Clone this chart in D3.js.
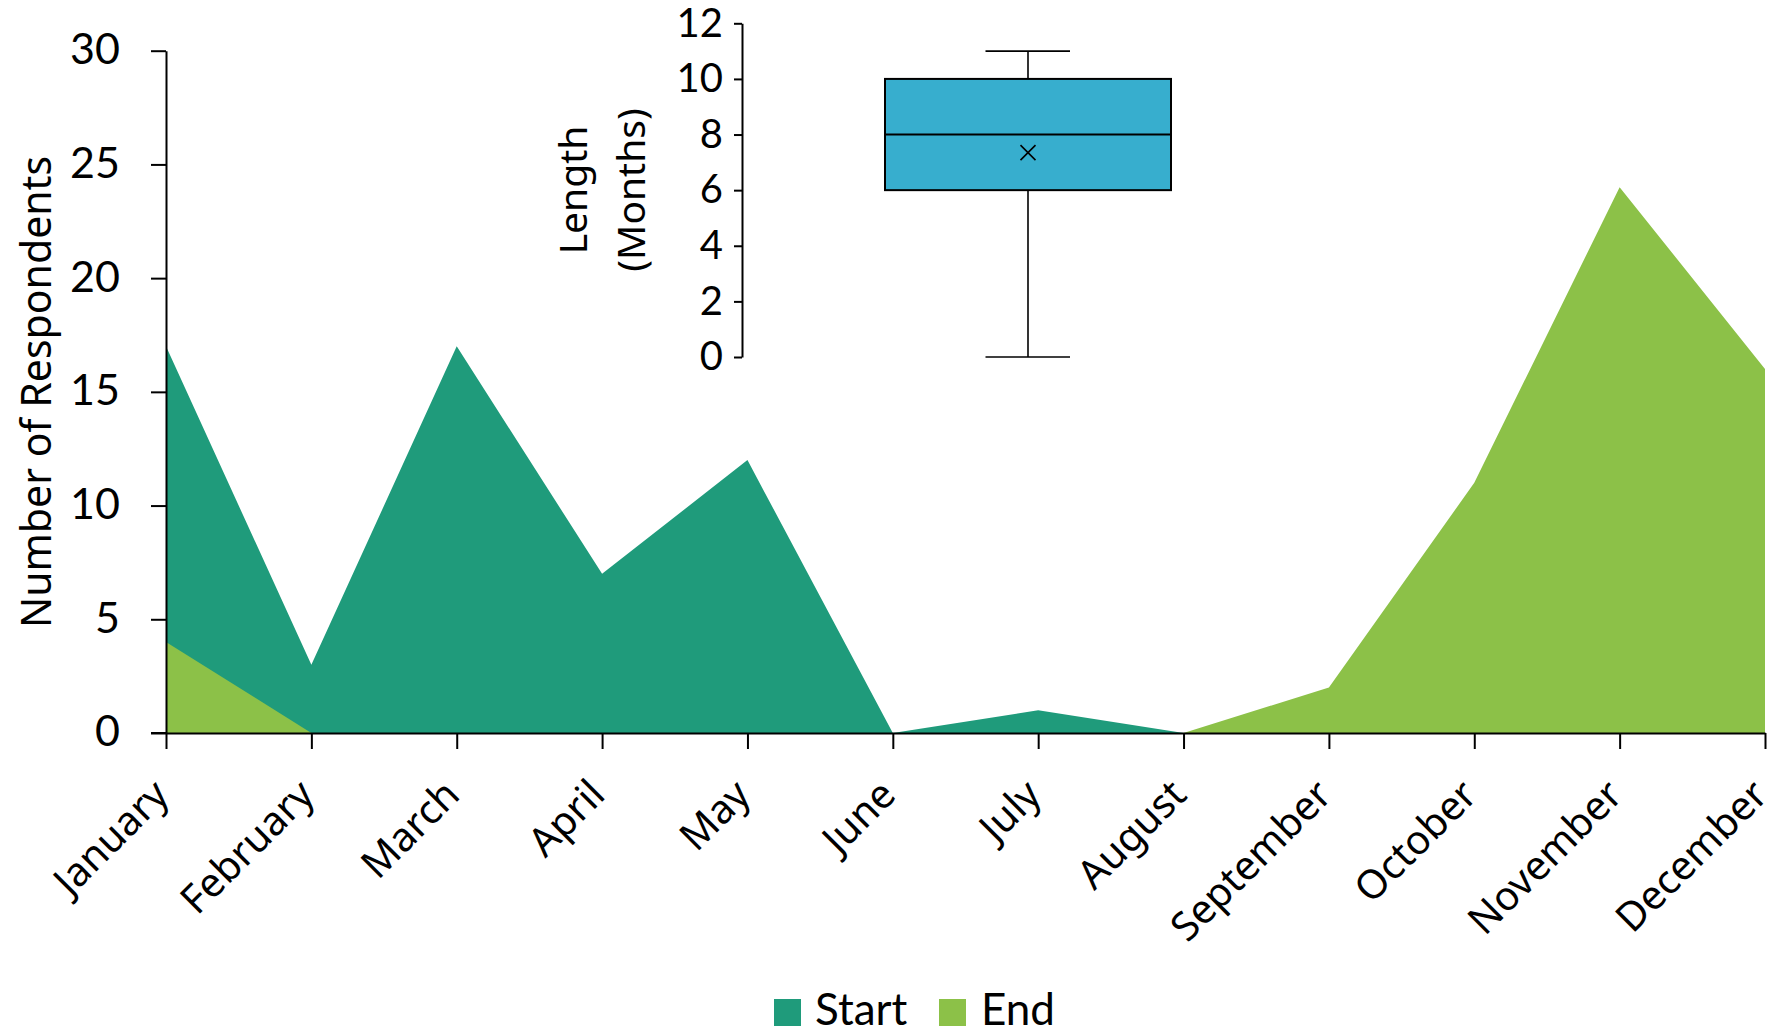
<!DOCTYPE html>
<html>
<head>
<meta charset="utf-8">
<script src="https://cdn.jsdelivr.net/npm/d3@7"></script>
<style>
  html, body { margin: 0; padding: 0; background: #fff; }
  svg { display: block; }
  .num { font-family: Lato, sans-serif; }
  .txt { font-family: "Noto Sans", sans-serif; }
</style>
</head>
<body>
<script>
// Months of the year (x categories)
const months = ["January", "February", "March", "April", "May", "June",
                "July", "August", "September", "October", "November", "December"];
// Respondents whose period started / ended in each month
const startCounts = [17, 3, 17, 7, 12, 0, 1, 0, 0, 0, 0, 0];
const endCounts   = [4, 0, 0, 0, 0, 0, 0, 0, 2, 11, 24, 16];
const yTicks = [0, 5, 10, 15, 20, 25, 30];

// Length summary (months) for the inset box plot
const lengthMin = 0, lengthQ1 = 6, lengthMedian = 8, lengthQ3 = 10, lengthMax = 11, lengthMean = 7.35;
const lengthTicks = [0, 2, 4, 6, 8, 10, 12];

const series = [
  { name: "Start", values: startCounts, color: "#1F9B7B" },
  { name: "End",   values: endCounts,   color: "#8CC148" }
];

const W = 1773, H = 1031;
const svg = d3.select("body").append("svg").attr("width", W).attr("height", H);

// ---- main area chart ----
const x = d3.scalePoint().domain(months).range([166, 1765]);
const y = d3.scaleLinear().domain([0, 30]).range([733, 50.7]);

const area = d3.area()
  .x((d, i) => x(months[i]))
  .y0(y(0))
  .y1(d => y(d));

svg.append("g").selectAll("path")
  .data(series)
  .join("path")
  .attr("d", s => area(s.values))
  .attr("fill", s => s.color);

// y axis
const yAxis = svg.append("g")
  .attr("transform", "translate(166,0)")
  .call(d3.axisLeft(y).tickValues(yTicks).tickSize(15).tickSizeOuter(0).tickPadding(31));
yAxis.select(".domain").attr("stroke", "#000").attr("stroke-width", 2);
yAxis.selectAll(".tick line").attr("stroke", "#000").attr("stroke-width", 2);
yAxis.selectAll(".tick text").attr("class", "num").attr("font-size", 43).attr("fill", "#000").attr("dy", "0.3em");

// x axis
const xAxis = svg.append("g")
  .attr("transform", "translate(0,733)")
  .call(d3.axisBottom(x).tickSize(16).tickSizeOuter(0).tickFormat(""));
xAxis.select(".domain").attr("stroke", "#000").attr("stroke-width", 2);
xAxis.selectAll(".tick line").attr("stroke", "#000").attr("stroke-width", 2);
// horizontal axis line extended under the y-axis zero tick
svg.append("line").attr("x1", 151).attr("x2", 166).attr("y1", 733).attr("y2", 733)
  .attr("stroke", "#000").attr("stroke-width", 2);

// rotated month labels
svg.append("g").selectAll("text")
  .data(months)
  .join("text")
  .attr("class", "txt")
  .attr("font-size", 40)
  .attr("text-anchor", "end")
  .attr("transform", m => `translate(${x(m) + 5},${733 + 64}) rotate(-45)`)
  .text(m => m);

// y axis title
svg.append("text")
  .attr("class", "txt")
  .attr("font-size", 41)
  .attr("text-anchor", "middle")
  .attr("transform", "translate(51,392) rotate(-90)")
  .text("Number of Respondents");

// ---- inset box plot ----
const ly = d3.scaleLinear().domain([0, 12]).range([357, 23.3]);
const boxX0 = 885, boxX1 = 1171, capX0 = 985.5, capX1 = 1070;
const cx = (boxX0 + boxX1) / 2;

const lAxis = svg.append("g")
  .attr("transform", "translate(742,0)")
  .call(d3.axisLeft(ly).tickValues(lengthTicks).tickSize(8).tickSizeOuter(0).tickPadding(11));
lAxis.select(".domain").attr("stroke", "#000").attr("stroke-width", 2);
lAxis.selectAll(".tick line").attr("stroke", "#000").attr("stroke-width", 2);
lAxis.selectAll(".tick text").attr("class", "num").attr("font-size", 40).attr("fill", "#000").attr("dy", "0.32em");

const bp = svg.append("g");
// whiskers
bp.append("line").attr("x1", cx).attr("x2", cx).attr("y1", ly(lengthMax)).attr("y2", ly(lengthQ3))
  .attr("stroke", "#000").attr("stroke-width", 1.6);
bp.append("line").attr("x1", cx).attr("x2", cx).attr("y1", ly(lengthQ1)).attr("y2", ly(lengthMin))
  .attr("stroke", "#000").attr("stroke-width", 1.6);
bp.append("line").attr("x1", capX0).attr("x2", capX1).attr("y1", ly(lengthMax)).attr("y2", ly(lengthMax))
  .attr("stroke", "#000").attr("stroke-width", 1.6);
bp.append("line").attr("x1", capX0).attr("x2", capX1).attr("y1", ly(lengthMin)).attr("y2", ly(lengthMin))
  .attr("stroke", "#000").attr("stroke-width", 1.6);
// box
bp.append("rect")
  .attr("x", boxX0).attr("y", ly(lengthQ3))
  .attr("width", boxX1 - boxX0).attr("height", ly(lengthQ1) - ly(lengthQ3))
  .attr("fill", "#37AECE").attr("stroke", "#000").attr("stroke-width", 2);
// median
bp.append("line").attr("x1", boxX0).attr("x2", boxX1).attr("y1", ly(lengthMedian)).attr("y2", ly(lengthMedian))
  .attr("stroke", "#000").attr("stroke-width", 2);
// mean marker
const my = ly(lengthMean), r = 7.5;
bp.append("path")
  .attr("d", `M${cx - r},${my - r}L${cx + r},${my + r}M${cx - r},${my + r}L${cx + r},${my - r}`)
  .attr("stroke", "#000").attr("stroke-width", 1.6).attr("fill", "none");

// box plot axis title (two lines)
const lt = svg.append("text")
  .attr("class", "txt")
  .attr("font-size", 39)
  .attr("text-anchor", "middle")
  .attr("transform", "translate(587,190) rotate(-90)");
lt.append("tspan").attr("x", 0).attr("y", 0).text("Length");
lt.append("tspan").attr("x", 0).attr("y", 58).text("(Months)");

// ---- legend ----
const legendItems = [
  { name: "Start", color: "#1F9B7B", sx: 774, tx: 815 },
  { name: "End",   color: "#8CC148", sx: 939, tx: 981 }
];
const lg = svg.append("g").selectAll("g").data(legendItems).join("g");
lg.append("rect").attr("x", d => d.sx).attr("y", 999).attr("width", 27).attr("height", 27).attr("fill", d => d.color);
lg.append("text").attr("class", "num").attr("font-size", 44).attr("x", d => d.tx).attr("y", 1025).text(d => d.name);
</script>
</body>
</html>
